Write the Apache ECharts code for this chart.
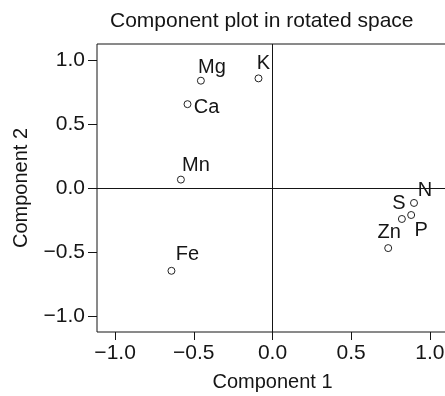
<!DOCTYPE html>
<html>
<head>
<meta charset="utf-8">
<style>
  html, body { margin: 0; padding: 0; background: #fff; }
  #main { width: 445px; height: 396px; }
</style>
<script src="https://cdn.jsdelivr.net/npm/echarts@6/dist/echarts.min.js"></script>
</head>
<body>
<div id="main"></div>
<script>
// loadings
const names = ["Mg", "K", "Ca", "Mn", "Fe", "N", "S", "P", "Zn"];
const comp1 = [-0.455, -0.089, -0.54, -0.582, -0.642, 0.899, 0.822, 0.881, 0.735];
const comp2 = [0.839, 0.857, 0.656, 0.068, -0.643, -0.114, -0.239, -0.208, -0.466];
const tickValues = [-1, -0.5, 0, 0.5, 1];

// where each name sits next to its point (px offset of the label centre)
const labelOffset = {
  Mg: [11, -13], K: [5, -15], Ca: [19, 3], Mn: [15, -14], Fe: [16, -16],
  N: [11, -12], S: [-3, -15], P: [10, 15], Zn: [1, -16]
};

const ink = "#151515";
const font = "'Liberation Sans', Arial, sans-serif";
const fmt = v => (v < 0 ? "\u2212" : "") + Math.abs(v).toFixed(1);

const chart = echarts.init(document.getElementById("main"));

const points = names.map((n, i) => ({
  value: [comp1[i], comp2[i]],
  name: n,
  label: { offset: labelOffset[n] }
}));

chart.setOption({
  animation: false,
  title: {
    text: "Component plot in rotated space",
    left: 105,
    top: 6,
    textStyle: { fontFamily: font, fontSize: 21, fontWeight: "normal", color: ink }
  },
  grid: {
    left: 97,
    right: -3,
    top: 44,
    bottom: 64,
    outerBoundsMode: "none",
    show: true,
    borderColor: ink,
    borderWidth: 1
  },
  xAxis: {
    type: "value",
    min: -1.115,
    max: 1.115,
    name: "Component 1",
    nameLocation: "middle",
    nameGap: 40,
    nameTextStyle: { fontFamily: font, fontSize: 20, color: ink },
    axisLine: { show: false, onZero: false },
    splitLine: { show: false },
    axisTick: {
      show: true,
      length: 8,
      customValues: tickValues,
      lineStyle: { color: ink, width: 1 }
    },
    axisLabel: {
      customValues: tickValues,
      formatter: fmt,
      margin: 11,
      fontFamily: font,
      fontSize: 21,
      color: ink
    }
  },
  yAxis: {
    type: "value",
    min: -1.12,
    max: 1.125,
    name: "Component 2",
    nameLocation: "middle",
    nameGap: 66,
    nameTextStyle: { fontFamily: font, fontSize: 20, color: ink },
    axisLine: { show: false, onZero: false },
    splitLine: { show: false },
    axisTick: {
      show: true,
      length: 9,
      customValues: tickValues,
      lineStyle: { color: ink, width: 1 }
    },
    axisLabel: {
      customValues: tickValues,
      formatter: fmt,
      margin: 12,
      fontFamily: font,
      fontSize: 21,
      color: ink
    }
  },
  series: [
    {
      type: "scatter",
      data: points,
      symbol: "circle",
      symbolSize: 7,
      itemStyle: { color: "#fff", borderColor: "#222", borderWidth: 1, opacity: 1 },
      label: {
        show: true,
        position: "inside",
        align: "center",
        verticalAlign: "middle",
        formatter: p => p.name,
        fontFamily: font,
        fontSize: 20,
        color: ink,
        textBorderWidth: 0
      },
      emphasis: { disabled: true },
      markLine: {
        silent: true,
        symbol: "none",
        label: { show: false },
        lineStyle: { color: ink, width: 1, type: "solid" },
        data: [{ xAxis: 0 }, { yAxis: 0 }]
      }
    }
  ]
});
</script>
</body>
</html>
